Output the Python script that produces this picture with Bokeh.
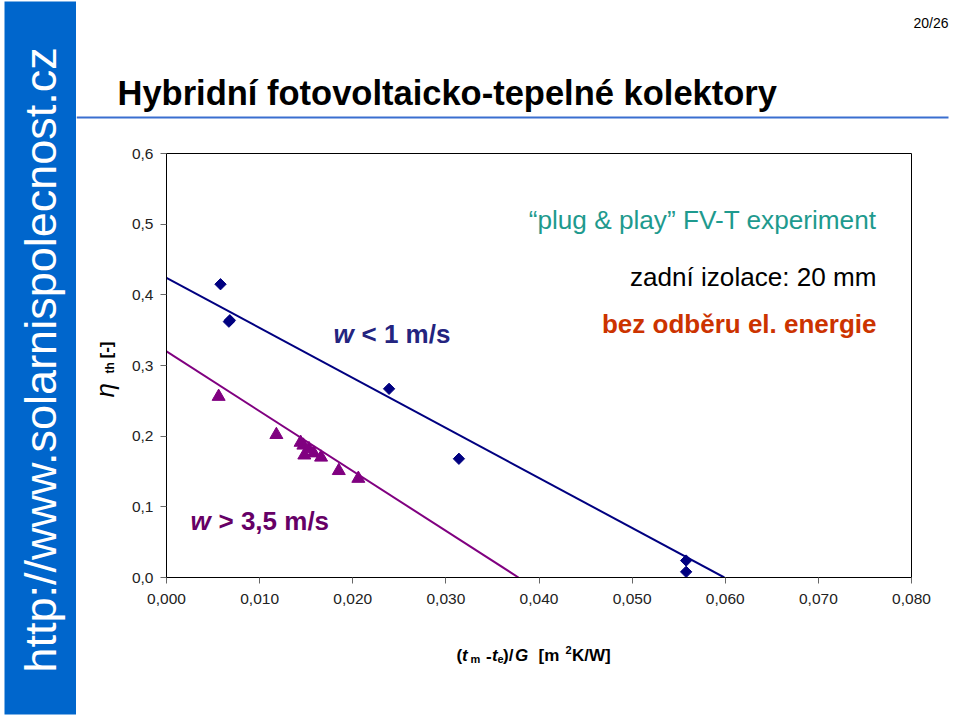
import math
from bokeh.plotting import figure
from bokeh.models import Label, BoxAnnotation, FixedTicker, Range1d
from bokeh.layouts import row, column
from bokeh.embed import file_html
from bokeh.resources import INLINE

# ---------------- data ----------------
x_ticks = [0.0, 0.01, 0.02, 0.03, 0.04, 0.05, 0.06, 0.07, 0.08]
x_tick_labels = ["0,000", "0,010", "0,020", "0,030", "0,040", "0,050", "0,060", "0,070", "0,080"]
y_ticks = [0.0, 0.1, 0.2, 0.3, 0.4, 0.5, 0.6]
y_tick_labels = ["0,0", "0,1", "0,2", "0,3", "0,4", "0,5", "0,6"]

# w < 1 m/s  (diamonds)
slow_x = [0.0058, 0.0067, 0.0068, 0.0239, 0.0314, 0.0558, 0.0558]
slow_y = [0.415, 0.362, 0.364, 0.267, 0.168, 0.024, 0.008]
# w > 3,5 m/s (triangles)
fast_x = [0.0056, 0.0118, 0.0144, 0.0147, 0.0148, 0.0153, 0.0158, 0.0166, 0.0185, 0.0206]
fast_y = [0.256, 0.202, 0.191, 0.187, 0.173, 0.182, 0.176, 0.170, 0.151, 0.140]
# linear trend lines
slow_trend_x = [0.0, 0.0599]
slow_trend_y = [0.424, 0.0]
fast_trend_x = [0.0, 0.0378]
fast_trend_y = [0.320, 0.0]

FONT = "Liberation Sans"
NAVY = "#000080"
PURPLE = "#800080"


def lab(fig, x, y, text, size, style="normal", color="black",
        align="left", baseline="alphabetic", angle=0.0):
    fig.add_layout(Label(x=x, y=y, x_units="canvas", y_units="canvas", text=text,
                         text_font=FONT, text_font_size=f"{size}px",
                         text_font_style=style, text_color=color,
                         text_align=align, text_baseline=baseline, angle=angle))


def canvas_fig(w, h):
    f = figure(width=w, height=h, x_range=Range1d(0, w), y_range=Range1d(h, 0),
               output_backend="svg", toolbar_location=None, min_border=0)
    f.axis.visible = False
    f.grid.visible = False
    f.outline_line_color = None
    f.background_fill_color = "white"
    f.border_fill_color = "white"
    return f


# ---------- banner (x 0..76) ----------
banner = canvas_fig(76, 716)
banner.add_layout(BoxAnnotation(left=4, right=76, top=1, bottom=714,
                                fill_color="#0066CC", fill_alpha=1.0, line_color=None))
lab(banner, 40, 672, "http://www.solarnispolecnost.cz", 45, color="white",
    baseline="middle", angle=math.pi / 2)

# ---------- header (x 76..960, y 0..138) ----------
header = canvas_fig(884, 138)
header.add_layout(BoxAnnotation(left=0, right=872, top=116, bottom=118,
                                fill_color="#3A6FD0", fill_alpha=1.0, line_color=None))
lab(header, 41, 92, "Hybridní fotovoltaicko-tepelné kolektory", 34.5, style="bold")
lab(header, 872, 22, "20/26", 14, align="right")

# ---------- y title (x 76..126, y 138..622) ----------
ytitle = canvas_fig(50, 484)
lab(ytitle, 28, 259, "\u03b7", 26, style="italic", angle=math.pi / 2)
lab(ytitle, 33, 235, "th", 12, style="bold", angle=math.pi / 2)
lab(ytitle, 30, 220, "[-]", 17, style="bold", angle=math.pi / 2)

# ---------- chart (x 126..960, y 138..622) ----------
p = figure(width=834, height=484, x_range=(0, 0.08), y_range=(0, 0.6),
           output_backend="svg", toolbar_location=None,
           min_border_left=40, min_border_right=49,
           min_border_top=15, min_border_bottom=45)
p.background_fill_color = "white"
p.border_fill_color = "white"
p.outline_line_color = "black"
p.outline_line_width = 1
p.grid.visible = False

p.xaxis.ticker = FixedTicker(ticks=x_ticks)
p.xaxis.major_label_overrides = dict(zip(x_ticks, x_tick_labels))
p.yaxis.ticker = FixedTicker(ticks=y_ticks)
p.yaxis.major_label_overrides = dict(zip(y_ticks, y_tick_labels))
for ax in (p.xaxis[0], p.yaxis[0]):
    ax.major_tick_in = 0
    ax.major_tick_out = 6
    ax.minor_tick_line_color = None
    ax.axis_line_color = "black"
    ax.major_tick_line_color = "#666666"
    ax.major_label_text_font = FONT
    ax.major_label_text_font_size = "15.5px"
    ax.major_label_text_color = "#222222"
p.xaxis.major_label_standoff = 10
p.yaxis.major_label_standoff = 7

p.line(slow_trend_x, slow_trend_y, line_color=NAVY, line_width=2)
p.line(fast_trend_x, fast_trend_y, line_color=PURPLE, line_width=2)
p.scatter(slow_x, slow_y, marker="square", angle=math.pi / 4, size=8,
          fill_color=NAVY, line_color=NAVY)
p.scatter(fast_x, fast_y, marker="triangle", size=13,
          fill_color=PURPLE, line_color=PURPLE)

lab(p, 750, 81, "\u201cplug & play\u201d FV-T experiment", 26.2, color="#1E9A8E", align="right")
lab(p, 750, 138, "zadní izolace: 20 mm", 26.1, align="right")
lab(p, 750, 185, "bez odběru el. energie", 26, style="bold", color="#CC3300", align="right")
lab(p, 207, 195, "w", 26, style="bold italic", color="#24247F")
lab(p, 235, 195, "< 1 m/s", 26, style="bold", color="#24247F")
lab(p, 64, 382, "w", 26, style="bold italic", color="#660066")
lab(p, 92, 382, "> 3,5 m/s", 26, style="bold", color="#660066")

# ---------- x title (x 76..960, y 622..716) ----------
xtitle = canvas_fig(884, 94)
bl = 33
lab(xtitle, 380, bl, "(", 17, style="bold")
lab(xtitle, 385.5, bl, "t", 17, style="bold italic")
lab(xtitle, 394, bl + 3, "m", 11, style="bold")
lab(xtitle, 409.5, bl, "-", 17, style="bold")
lab(xtitle, 415.5, bl, "t", 17, style="bold italic")
lab(xtitle, 421, bl + 3, "e", 11, style="bold")
lab(xtitle, 426.5, bl, ")/", 17, style="bold")
lab(xtitle, 438.5, bl, "G", 17, style="bold italic")
lab(xtitle, 462, bl, "[m", 17, style="bold")
lab(xtitle, 489, bl - 6, "2", 11, style="bold")
lab(xtitle, 495.5, bl, "K/W]", 17, style="bold")

layout = row(banner, column(header, row(ytitle, p), xtitle))
open("out.html", "w").write(file_html(layout, INLINE))
